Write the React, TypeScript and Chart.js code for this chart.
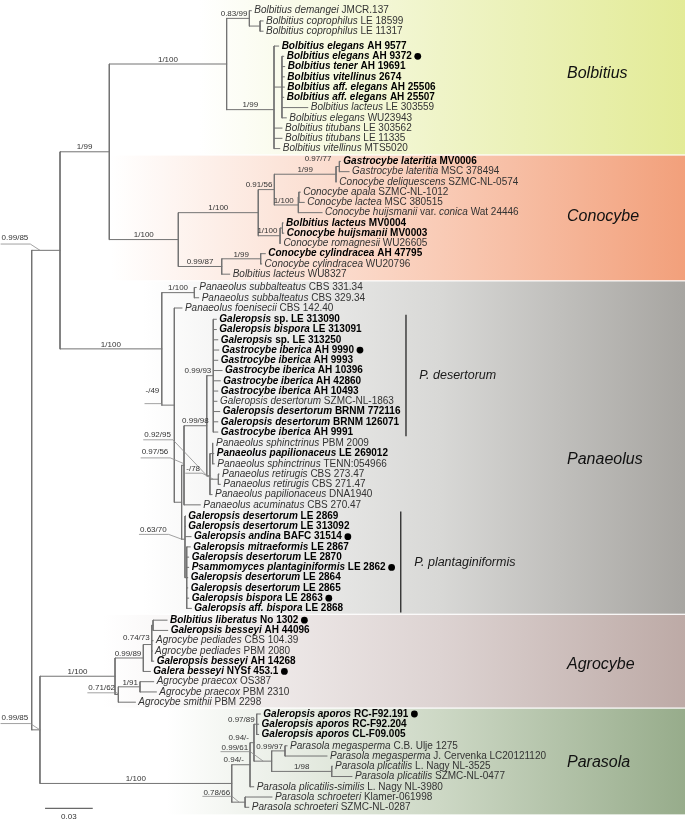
import React, { useEffect, useRef } from 'react';
import { Chart, registerables } from 'chart.js';
Chart.register(...registerables);

const FONT = '"Liberation Sans", Arial, Helvetica, sans-serif';

// ---- leaves (top to bottom); "|" toggles italic (starts italic) ----
const leafLabels: string[] = [
  'Bolbitius demangei| JMCR.137',
  'Bolbitius coprophilus| LE 18599',
  'Bolbitius coprophilus| LE 11317',
  'Bolbitius elegans| AH 9577',
  'Bolbitius elegans| AH 9372',
  'Bolbitius tener| AH 19691',
  'Bolbitius vitellinus| 2674',
  'Bolbitius aff. elegans| AH 25506',
  'Bolbitius aff. elegans| AH 25507',
  'Bolbitius lacteus| LE 303559',
  'Bolbitius elegans| WU23943',
  'Bolbitius titubans| LE 303562',
  'Bolbitius titubans| LE 11335',
  'Bolbitius vitellinus| MTS5020',
  'Gastrocybe lateritia| MV0006',
  'Gastrocybe lateritia| MSC 378494',
  'Conocybe deliquescens| SZMC-NL-0574',
  'Conocybe apala| SZMC-NL-1012',
  'Conocybe lactea| MSC 380515',
  'Conocybe huijsmanii| var. |conica| Wat 24446',
  'Bolbitius lacteus| MV0004',
  'Conocybe huijsmanii| MV0003',
  'Conocybe romagnesii| WU26605',
  'Conocybe cylindracea| AH 47795',
  'Conocybe cylindracea| WU20796',
  'Bolbitius lacteus| WU8327',
  'Panaeolus subbalteatus| CBS 331.34',
  'Panaeolus subbalteatus| CBS 329.34',
  'Panaeolus foenisecii| CBS 142.40',
  'Galeropsis| sp. LE 313090',
  'Galeropsis bispora| LE 313091',
  'Galeropsis| sp. LE 313250',
  'Gastrocybe iberica| AH 9990',
  'Gastrocybe iberica| AH 9993',
  'Gastrocybe iberica| AH 10396',
  'Gastrocybe iberica| AH 42860',
  'Gastrocybe iberica| AH 10493',
  'Galeropsis desertorum| SZMC-NL-1863',
  'Galeropsis desertorum| BRNM 772116',
  'Galeropsis desertorum| BRNM 126071',
  'Gastrocybe iberica| AH 9991',
  'Panaeolus sphinctrinus| PBM 2009',
  'Panaeolus papilionaceus| LE 269012',
  'Panaeolus sphinctrinus| TENN:054966',
  'Panaeolus retirugis| CBS 273.47',
  'Panaeolus retirugis| CBS 271.47',
  'Panaeolus papilionaceus| DNA1940',
  'Panaeolus acuminatus| CBS 270.47',
  'Galeropsis desertorum| LE 2869',
  'Galeropsis desertorum| LE 313092',
  'Galeropsis andina| BAFC 31514',
  'Galeropsis mitraeformis| LE 2867',
  'Galeropsis desertorum| LE 2870',
  'Psammomyces plantaginiformis| LE 2862',
  'Galeropsis desertorum| LE 2864',
  'Galeropsis desertorum| LE 2865',
  'Galeropsis bispora| LE 2863',
  'Galeropsis aff. bispora| LE 2868',
  'Bolbitius liberatus| No 1302',
  'Galeropsis besseyi| AH 44096',
  'Agrocybe pediades| CBS 104.39',
  'Agrocybe pediades| PBM 2080',
  'Galeropsis besseyi| AH 14268',
  'Galera besseyi| NYSf 453.1',
  'Agrocybe praecox| OS387',
  'Agrocybe praecox| PBM 2310',
  'Agrocybe smithii| PBM 2298',
  'Galeropsis aporos| RC-F92.191',
  'Galeropsis aporos| RC-F92.204',
  'Galeropsis aporos| CL-F09.005',
  'Parasola megasperma| C.B. Ulje 1275',
  'Parasola megasperma| J. Cervenka LC20121120',
  'Parasola plicatilis| L. Nagy NL-3525',
  'Parasola plicatilis| SZMC-NL-0477',
  'Parasola plicatilis-similis| L. Nagy NL-3980',
  'Parasola schroeteri| Klamer-061998',
  'Parasola schroeteri| SZMC-NL-0287',
];

// tip distance from root (substitutions/site)
const leafDepth: number[] = [
  0.1381, 0.1455, 0.1455, 0.1553, 0.1585, 0.1591, 0.1589, 0.1589, 0.1585, 0.1736, 0.1601, 0.1574, 0.1574, 0.1560,
  0.1941, 0.1996, 0.1916, 0.1689, 0.1714, 0.1826, 0.1581, 0.1585, 0.1564, 0.1469, 0.1446, 0.1245,
  0.1035, 0.1050, 0.0945, 0.1161, 0.1161, 0.1170, 0.1176, 0.1170, 0.1197, 0.1186, 0.1170, 0.1165, 0.1182, 0.1170, 0.1170,
  0.1140, 0.1145, 0.1148, 0.1178, 0.1186, 0.1134, 0.1060,
  0.0966, 0.0966, 0.1002, 0.0997, 0.0987, 0.0987, 0.0981, 0.0981, 0.0987, 0.1004,
  0.0851, 0.0855, 0.0763, 0.0757, 0.0767, 0.0746, 0.0767, 0.0784, 0.0652,
  0.1438, 0.1427, 0.1427, 0.1606, 0.1857, 0.1889, 0.2014, 0.1396, 0.1511, 0.1365,
];

const boldLeaves: number[] = [3, 4, 5, 6, 7, 8, 14, 20, 21, 23, 29, 30, 31, 32, 33, 34, 35, 36, 38, 39, 40, 42,
  48, 49, 50, 51, 52, 53, 54, 55, 56, 57, 58, 59, 62, 63, 67, 68, 69];
const dotLeaves: number[] = [4, 32, 50, 53, 56, 58, 63, 67];

// extra vertical space after given leaf (in rows)
const rowGapAfter: [number, number][] = [[2, 0.45], [13, 0.25], [25, 0.3], [28, 0.1], [40, 0.1], [47, 0.1], [57, 0.15], [66, 0.15], [69, 0.1]];

// ---- internal nodes ----
const nodeIds: string[] = [
  'root', 'X', 'BC', 'Bol', 'A', 'Acop', 'B', 'Bsub',
  'Con', 'ConU', 'C1', 'C11', 'C111', 'C12', 'C121', 'C2', 'C21', 'ConL', 'ConL1',
  'P', 'Psub', 'Q', 'S0', 'S1', 'R', 'D', 'Sph', 'Sph1', 'Sph2', 'T', 'T2',
  'Y', 'Ag', 'AgB', 'AgB1', 'AgB11', 'AgC', 'AgC1',
  'Pa', 'Pb', 'Pc', 'Pap', 'Pd', 'Pmeg', 'Ppl', 'Sch',
];
const nodeDepth: number[] = [
  0, 0.0178, 0.0488, 0.1226, 0.1369, 0.1436, 0.1524, 0.1574,
  0.0922, 0.1425, 0.1526, 0.1914, 0.1935, 0.1677, 0.1680, 0.1562, 0.1577, 0.1195, 0.1440,
  0.0818, 0.1023, 0.0897, 0.0943, 0.0958, 0.1101, 0.1142, 0.1121, 0.1138, 0.1174, 0.0964, 0.0975,
  0.0052, 0.0524, 0.0702, 0.0755, 0.0763, 0.0545, 0.0681,
  0.1258, 0.1373, 0.1398, 0.1415, 0.1509, 0.1593, 0.1887, 0.1342,
];
const nodeChildren: (number | string)[][] = [
  ['X', 'Y'], ['BC', 'P'], ['Bol', 'Con'], ['A', 'B'], [0, 'Acop'], [1, 2], [3, 'Bsub', 11, 12, 13], [4, 5, 6, 7, 8, 9, 10],
  ['ConU', 'ConL'], ['C1', 'C2'], ['C11', 'C12'], ['C111', 16], [14, 15], ['C121', 19], [17, 18], ['C21', 22], [20, 21], ['ConL1', 25], [23, 24],
  ['Psub', 'Q'], [26, 27], [28, 'S0'], ['S1', 'T'], ['R', 47], ['D', 'Sph'], [29, 30, 31, 32, 33, 34, 35, 36, 37, 38, 39, 40],
  ['Sph1', 'Sph2', 46], [41, 42, 43], [44, 45], [48, 49, 50, 'T2'], [51, 52, 53, 54, 55, 56, 57],
  ['Ag', 'Pa'], ['AgB', 'AgC'], ['AgB1', 63], ['AgB11', 60, 61, 62], [58, 59], ['AgC1', 66], [64, 65],
  ['Pb', 'Sch'], ['Pc', 74], ['Pap', 'Pd'], [67, 68, 69], ['Pmeg', 'Ppl'], [70, 71], [72, 73], [75, 76],
];
const nodeSupport: string[] = [
  '', '0.99/85', '1/99', '1/100', '0.83/99', '', '1/99', '',
  '1/100', '1/100', '0.91/56', '1/99', '0.97/77', '', '1/100', '', '1/100', '0.99/87', '1/99',
  '1/100', '1/100', '-/49', '', '0.97/56', '0.99/98', '0.99/93', '0.92/95', '', '-/78', '0.63/70', '',
  '0.99/85', '1/100', '0.99/89', '0.74/73', '', '0.71/62', '1/91',
  '1/100', '0.94/-', '0.94/-', '0.97/89', '0.99/61', '0.99/97', '1/98', '0.78/66',
];
const centeredSupports: string[] = ['Bol', 'B', 'BC', 'Con', 'ConU', 'ConL', 'C11', 'ConL1', 'P', 'Psub', 'R', 'Ag', 'Pa', 'Ppl'];
const rightSupportOffsets: Record<string, [number, number]> = {
  C111: [-6, -3], C121: [-3, 8.5], C21: [-3, 7.5], Pc: [-3, 0], Pb: [-4, 0], AgB1: [0, -2],
};
// [labelRight dx, label centre dy, underline dy, target dx, target dy] relative to node (px)
const leaderSupports: Record<string, number[]> = {
  X: [-31.7, -12.3, -6.3, -20, 0],
  Y: [-11.7, -12.3, -6.3, 0, 0],
  Q: [-15, -14, -1.5, -12.6, 0],
  Sph: [-39, -41, -36, -2, 1],
  S1: [-15.7, -13, -7.4, -1, -2],
  Sph2: [-18.3, -10, -6, -5, 0],
  T: [-18.3, -9.8, -4.8, -3.3, 0],
  AgC: [-3.3, -6.7, -1.7, 0, 0],
  Pd: [-23.4, -12.9, -9.5, -8.4, 0],
  Sch: [-15, -9.2, -5.8, -6, 0],
};

// ---- clades ----
const cladeNames: string[] = ['Bolbitius', 'Conocybe', 'Panaeolus', 'Agrocybe', 'Parasola'];
const cladeFirst: number[] = [0, 14, 26, 58, 67];
const cladeLast: number[] = [13, 25, 57, 66, 76];
const cladeFadeStart: number[] = [0.105, 0.05, 0.07, 0.045, 0.085];
const cladeMidColor: string[] = ['#eff4c8', '#f9cbb6', '#d8d8d6', '#ddd3d2', '#cdd8c5'];
const cladeEdgeColor: string[] = ['#e3eb97', '#f2a07b', '#a7a5a1', '#bdaaa6', '#97ac8b'];
const cladeLabelRow: number[] = [6.1, 20.05, 43.83, 63.76, 73.33];
const cladeLabelX = 0.3367;

const subNames: string[] = ['P. desertorum', 'P. plantaginiformis'];
const subFirst: number[] = [29, 48];
const subLast: number[] = [40, 57];
const subBarX: number[] = [0.2354, 0.2321];
const subTextX: number[] = [0.2438, 0.2406];

const scaleBarStart = 0.0084;
const scaleBarLength = 0.03;
const scaleBarLabel = '0.03';

const X_MIN = -0.019937, X_MAX = 0.410881;
const Y_MIN = -1.0437, Y_MAX = 79.038;

function rowOf(i: number): number {
  let r = i;
  for (const [k, g] of rowGapAfter) if (i > k) r += g;
  return r;
}

function buildLayout() {
  const idx = new Map<string, number>();
  nodeIds.forEach((n, i) => idx.set(n, i));
  const nodeY: number[] = new Array(nodeIds.length);
  const parentOfNode: number[] = new Array(nodeIds.length).fill(-1);
  const yOf = (c: number | string): number => {
    if (typeof c === 'number') return rowOf(c);
    const i = idx.get(c)!;
    if (nodeY[i] === undefined) {
      const ys = nodeChildren[i].map(yOf);
      nodeY[i] = ys.reduce((a, b) => a + b, 0) / ys.length;
    }
    return nodeY[i];
  };
  const dOf = (c: number | string) => (typeof c === 'number' ? leafDepth[c] : nodeDepth[idx.get(c)!]);
  nodeIds.forEach((_, i) => yOf(nodeIds[i]));
  const pts: { x: number; y: number }[] = [];
  const gap = { x: NaN, y: NaN };
  nodeChildren.forEach((ch, i) => {
    const ys = ch.map(yOf);
    pts.push({ x: nodeDepth[i], y: Math.min(...ys) }, { x: nodeDepth[i], y: Math.max(...ys) }, gap);
    ch.forEach((c) => {
      if (typeof c === 'string') parentOfNode[idx.get(c)!] = i;
      pts.push({ x: nodeDepth[i], y: yOf(c) }, { x: dOf(c), y: yOf(c) }, gap);
    });
  });
  return { idx, nodeY, parentOfNode, pts };
}

export default function App() {
  const ref = useRef<HTMLCanvasElement>(null);
  useEffect(() => {
    const canvas = ref.current!;
    const L = buildLayout();
    const lastRow = rowOf(leafLabels.length - 1);

    const bgPlugin = {
      id: 'cladeBg',
      beforeDatasetsDraw(chart: any) {
        const { ctx, chartArea, scales } = chart;
        const xs = scales.x, ys = scales.y;
        ctx.save();
        cladeNames.forEach((_, k) => {
          const top = k === 0 ? chartArea.top : (ys.getPixelForValue(rowOf(cladeFirst[k])) + ys.getPixelForValue(rowOf(cladeFirst[k] - 1))) / 2;
          const bottom = k === cladeNames.length - 1 ? ys.getPixelForValue(lastRow + 0.75)
            : (ys.getPixelForValue(rowOf(cladeLast[k])) + ys.getPixelForValue(rowOf(cladeLast[k] + 1))) / 2;
          const x0 = xs.getPixelForValue(cladeFadeStart[k]);
          const x1 = chartArea.right;
          const g = ctx.createLinearGradient(x0, 0, x1, 0);
          g.addColorStop(0, 'rgba(255,255,255,1)');
          g.addColorStop(Math.max(0.05, Math.min(0.95, (440 - x0) / (x1 - x0))), cladeMidColor[k]);
          g.addColorStop(1, cladeEdgeColor[k]);
          ctx.fillStyle = g;
          ctx.fillRect(x0, top + (k === 0 ? 0 : 0.6), x1 - x0, bottom - top - (k === 0 ? 0.6 : 1.2));
        });
        ctx.restore();
      },
    };

    const labelPlugin = {
      id: 'treeLabels',
      afterDatasetsDraw(chart: any) {
        const { ctx, scales } = chart;
        const xs = scales.x, ys = scales.y;
        ctx.save();
        ctx.textBaseline = 'middle';
        // leaf labels
        leafLabels.forEach((lab, i) => {
          const bold = boldLeaves.includes(i);
          let x = xs.getPixelForValue(leafDepth[i]) + 3;
          const y = ys.getPixelForValue(rowOf(i));
          ctx.fillStyle = bold ? '#000' : '#333';
          ctx.textAlign = 'left';
          lab.split('|').forEach((p, k) => {
            ctx.font = `${k % 2 === 0 ? 'italic ' : ''}${bold ? 'bold ' : ''}10px ${FONT}`;
            ctx.fillText(p, x, y);
            x += ctx.measureText(p).width;
          });
          if (dotLeaves.includes(i)) {
            ctx.beginPath();
            ctx.arc(x + 6, y, 3.4, 0, Math.PI * 2);
            ctx.fillStyle = '#000';
            ctx.fill();
          }
        });
        // support values
        ctx.font = `8px ${FONT}`;
        nodeIds.forEach((id, i) => {
          const s = nodeSupport[i];
          if (!s) return;
          const nx = xs.getPixelForValue(nodeDepth[i]);
          const ny = ys.getPixelForValue(L.nodeY[i]);
          ctx.fillStyle = '#333';
          if (leaderSupports[id]) {
            const [rdx, cdy, udy, tdx, tdy] = leaderSupports[id];
            const w = ctx.measureText(s).width;
            const right = nx + rdx;
            ctx.textAlign = 'right';
            ctx.fillText(s, right, ny + cdy);
            ctx.strokeStyle = '#8a8a8a';
            ctx.lineWidth = 0.8;
            ctx.beginPath();
            ctx.moveTo(right - w - 1, ny + udy);
            ctx.lineTo(right + 2, ny + udy);
            ctx.lineTo(nx + tdx, ny + tdy);
            ctx.stroke();
          } else if (centeredSupports.includes(id)) {
            const p = L.parentOfNode[i];
            const px = xs.getPixelForValue(p >= 0 ? nodeDepth[p] : 0);
            ctx.textAlign = 'center';
            ctx.fillText(s, (px + nx) / 2, ny - 4.5);
          } else {
            const off = rightSupportOffsets[id] || [0, 0];
            ctx.textAlign = 'right';
            ctx.fillText(s, nx - 2 + off[0], ny - 4.5 + off[1]);
          }
        });
        // sub-clade bars
        subNames.forEach((n, k) => {
          const bx = xs.getPixelForValue(subBarX[k]);
          const y0 = ys.getPixelForValue(rowOf(subFirst[k]) - 0.45);
          const y1 = ys.getPixelForValue(rowOf(subLast[k]) + 0.4);
          ctx.strokeStyle = '#333';
          ctx.lineWidth = 1.4;
          ctx.beginPath();
          ctx.moveTo(bx, y0);
          ctx.lineTo(bx, y1);
          ctx.stroke();
          ctx.font = `italic 12.5px ${FONT}`;
          ctx.fillStyle = '#1a1a1a';
          ctx.textAlign = 'left';
          ctx.fillText(n, xs.getPixelForValue(subTextX[k]), ys.getPixelForValue((rowOf(subFirst[k]) + rowOf(subLast[k])) / 2));
        });
        // clade labels
        ctx.font = `italic 16px ${FONT}`;
        ctx.fillStyle = '#111';
        ctx.textAlign = 'left';
        cladeNames.forEach((n, k) => {
          ctx.fillText(n, xs.getPixelForValue(cladeLabelX), ys.getPixelForValue(cladeLabelRow[k]));
        });
        // scale bar label
        ctx.font = `8px ${FONT}`;
        ctx.fillStyle = '#333';
        ctx.textAlign = 'center';
        ctx.fillText(scaleBarLabel, xs.getPixelForValue(scaleBarStart + scaleBarLength / 2), ys.getPixelForValue(lastRow + 0.9));
        ctx.restore();
      },
    };

    const chart = new Chart(canvas, {
      type: 'scatter',
      data: {
        datasets: [
          {
            data: L.pts,
            showLine: true,
            spanGaps: false,
            borderColor: '#737373',
            borderWidth: 1,
            pointRadius: 0,
            fill: false,
            borderCapStyle: 'square',
          } as any,
          {
            data: [{ x: scaleBarStart, y: lastRow + 0.1 }, { x: scaleBarStart + scaleBarLength, y: lastRow + 0.1 }],
            showLine: true,
            borderColor: '#444',
            borderWidth: 1,
            pointRadius: 0,
            fill: false,
          } as any,
        ],
      },
      options: {
        responsive: false,
        maintainAspectRatio: false,
        animation: false,
        events: [],
        layout: { padding: 0 },
        plugins: { legend: { display: false }, tooltip: { enabled: false } },
        scales: {
          x: { type: 'linear', display: false, min: X_MIN, max: X_MAX },
          y: { type: 'linear', display: false, min: Y_MIN, max: Y_MAX, reverse: true },
        },
      },
      plugins: [bgPlugin, labelPlugin],
    });
    return () => chart.destroy();
  }, []);
  return (
    <div style={{ position: 'fixed', left: 0, top: 0, width: 685, height: 821, background: '#fff' }}>
      <canvas ref={ref} width={685} height={821} style={{ display: 'block', width: 685, height: 821 }} />
    </div>
  );
}
